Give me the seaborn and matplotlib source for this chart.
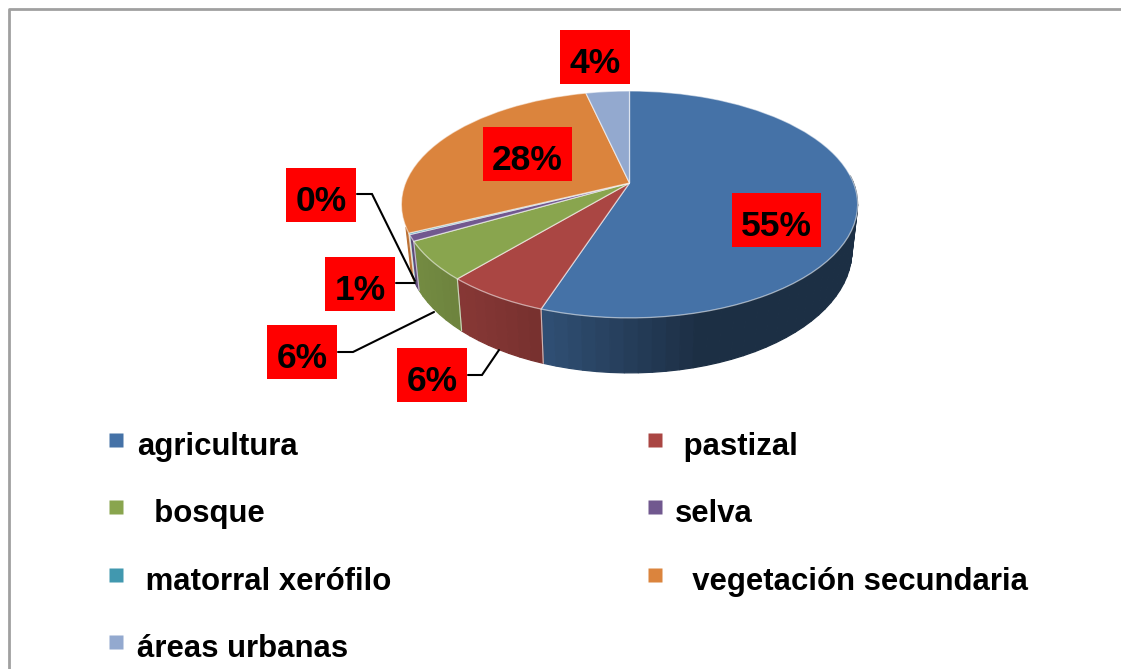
import numpy as np
import matplotlib
matplotlib.use("Agg")
import matplotlib.pyplot as plt
import seaborn as sns
from matplotlib.lines import Line2D
from matplotlib.patches import Rectangle
from matplotlib.transforms import Transform

# valores (%)
categories = ["agricultura", "pastizal", "bosque", "selva", "matorral xerófilo",
              "vegetación secundaria", "áreas urbanas"]
legend_labels = ["agricultura", " pastizal", "  bosque", "selva", " matorral xerófilo",
                 "  vegetación secundaria", "áreas urbanas"]
values = [55.2, 6.2, 5.5, 0.9, 0.2, 28.2, 3.7]
colors = ["#4572A7", "#AA4643", "#89A54E", "#71588F", "#4198AF", "#DB843D", "#93A9CF"]

# posicion de las etiquetas rojas (izq, arriba, ancho) en pixeles
label_boxes = [(732, 193, 89), (397, 348, 70), (267, 325, 70), (325, 257, 70),
               (286, 168, 70), (483, 127, 89), (560, 30, 70)]
leaders = [
    ([468, 482, 499], [375, 375, 350]),
    ([338, 353, 434], [352, 352, 312]),
    ([396, 415], [283, 283]),
    ([357, 372, 415], [194, 194, 281]),
]

# perspectiva del pie
CX, CY = 629.5, 183
A, B, K = 224, 109.4, 0.189
DEPTH, SHRINK = 44.6, 0.975


class PieProjection(Transform):
    input_dims = 2
    output_dims = 2

    def transform_non_affine(self, xy):
        xy = np.asarray(xy, dtype=float)
        w = 1 + K * xy[:, 1]
        return np.column_stack([CX + A * xy[:, 0] / w, CY - B * xy[:, 1] / w])


def shaded(color, x):
    # el costado se oscurece hacia la derecha
    f = np.interp(x, [400, 541, 700], [0.86, 0.70, 0.41])
    return tuple(np.array(matplotlib.colors.to_rgb(color)) * f)


sns.set_theme(style="white")
plt.rcParams["font.family"] = ["Liberation Sans", "DejaVu Sans"]

fig = plt.figure(figsize=(11.21, 6.69), dpi=100, facecolor="white")
ax = fig.add_axes([0, 0, 1, 1])

wedges, _ = ax.pie(values, colors=colors, startangle=90, counterclock=False,
                   wedgeprops=dict(edgecolor=(1, 1, 1, 0.55), linewidth=0.9, zorder=3))
proj = PieProjection()
for w in wedges:
    w.set_transform(proj + ax.transData)

ax.set_aspect("auto")
ax.set_xlim(0, 1121)
ax.set_ylim(669, 0)
ax.set_axis_off()

# costado del pie, por tiras
for w, col in zip(wedges, colors):
    n = max(3, int((w.theta2 - w.theta1) / 3) + 2)
    t = np.radians(np.linspace(w.theta1, w.theta2, n))
    top = proj.transform_non_affine(np.column_stack([np.cos(t), np.sin(t)]))
    wt = 1 + K * np.sin(t)
    bx = CX + (top[:, 0] - CX) * SHRINK
    by = top[:, 1] + DEPTH / wt
    for i in range(len(t) - 1):
        s, c = np.sin(t[i]), np.cos(t[i])
        # a la izquierda el costado casi no se ve
        if s > 0.05 or (c < 0 and s > -0.35):
            continue
        xs = [top[i, 0], top[i + 1, 0], bx[i + 1], bx[i]]
        ys = [top[i, 1], top[i + 1, 1], by[i + 1], by[i]]
        ax.fill(xs, ys, color=shaded(col, (top[i, 0] + top[i + 1, 0]) / 2), lw=0.9, zorder=2)
    # arista clara entre porciones
    for j in (0, -1):
        if np.sin(t[j]) < -0.35:
            ax.plot([top[j, 0], bx[j]], [top[j, 1], by[j]], color=(1, 1, 1, 0.4), lw=0.8, zorder=2.5)

# lineas guia
for xs, ys in leaders:
    ax.plot(xs, ys, color="black", lw=1.5, solid_joinstyle="miter", zorder=4)

# etiquetas
for v, (x0, y0, bw) in zip(values, label_boxes):
    ax.add_patch(Rectangle((x0, y0), bw, 54, facecolor="#FF0000", edgecolor="none", zorder=5))
    ax.text(x0 + bw / 2, y0 + 43, f"{round(v)}%", ha="center", va="baseline",
            fontsize=25.5, fontweight="bold", color="black", zorder=6)

# leyenda: por columnas, para que se lea por filas
order = [0, 2, 4, 6, 1, 3, 5]
handles = [Line2D([], [], ls="none", marker="s", ms=10.4, mfc=colors[i], mec="none") for i in order]
ax.legend(handles, [legend_labels[i] for i in order], ncol=2, loc="upper left",
          bbox_to_anchor=(109, 425), bbox_transform=ax.transData, frameon=False,
          prop=dict(family="Liberation Sans", weight="bold", size=22.4),
          borderpad=0, borderaxespad=0, numpoints=1, handlelength=0.47, handleheight=1.57,
          handletextpad=0.42, labelspacing=0.9, columnspacing=8.25, labelcolor="black")

# marco del grafico: solo arriba e izquierda quedan dentro del recorte
ax.plot([9, 9, 1130], [680, 9, 9], color="#A0A0A0", lw=2, zorder=1)

fig.savefig("out.png", dpi=100)
